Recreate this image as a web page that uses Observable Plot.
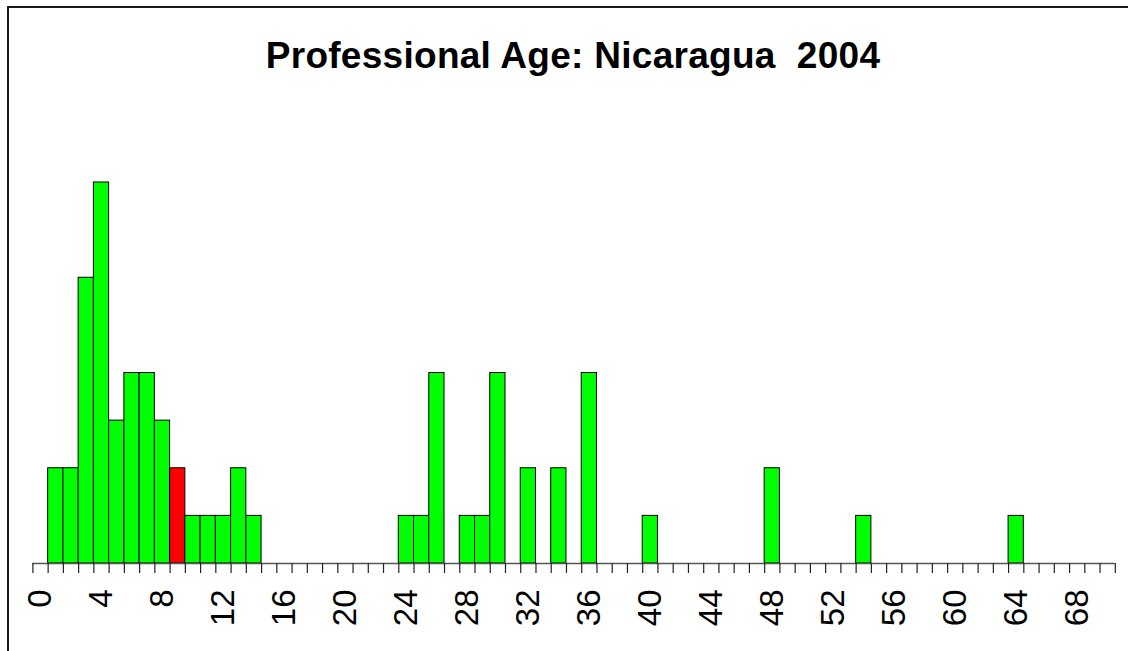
<!DOCTYPE html>
<html>
<head>
<meta charset="utf-8">
<script src="https://cdn.jsdelivr.net/npm/d3@7"></script>
<script src="https://cdn.jsdelivr.net/npm/@observablehq/plot@0.6"></script>
<style>
  html, body { margin: 0; padding: 0; background: #fff; }
  #wrap { position: relative; width: 1128px; height: 651px; overflow: hidden; background: #fff;
          font-family: "Liberation Sans", Arial, Helvetica, sans-serif; }
  #bTop { position: absolute; left: 7px; top: 6px; width: 1121px; height: 2px; background: #1a1a1a; }
  #bLeft { position: absolute; left: 7px; top: 6px; width: 2px; height: 645px; background: #1a1a1a; }
  #title { position: absolute; left: 573px; top: 37px; margin: 0; font-size: 37px; line-height: 37px;
           font-weight: bold; color: #000; white-space: pre; letter-spacing: 0.28px;
           transform: translateX(-50%); }
  #chart { position: absolute; left: 0; top: 100px; }
</style>
</head>
<body>
<div id="wrap">
  <div id="bTop"></div>
  <div id="bLeft"></div>
  <div id="title">Professional Age: Nicaragua  2004</div>
  <div id="chart"></div>
</div>
<script>
// Data
const ages   = [1, 2, 3, 4, 5, 6, 7, 8, 9, 10, 11, 12, 13, 14, 24, 25, 26, 28, 29, 30, 32, 34, 36, 40, 48, 54, 64];
const counts = [2, 2, 6, 8, 3, 4, 4, 3, 2, 1, 1, 1, 2, 1, 1, 1, 4, 1, 1, 4, 2, 2, 4, 1, 2, 1, 1];
const highlightAge = 9;
const tickLabels = [0, 4, 8, 12, 16, 20, 24, 28, 32, 36, 40, 44, 48, 52, 56, 60, 64, 68];
const tickEdges = d3.range(-0.5, 71, 1);

const data = ages.map((a, i) => ({age: a, count: counts[i]}));

const chart = Plot.plot({
  width: 1128,
  height: 551,
  marginLeft: 32.4,
  marginRight: 13.2,
  marginTop: 82,
  marginBottom: 88,
  x: {domain: [-0.5, 70.5]},
  y: {domain: [0, 8], axis: null},
  style: {fontFamily: '"Liberation Sans", Arial, Helvetica, sans-serif', background: "transparent", overflow: "visible"},
  marks: [
    Plot.rectY(data, {
      x1: d => d.age - 0.5,
      x2: d => d.age + 0.5,
      y1: 0,
      y2: d => d.count,
      fill: d => d.age === highlightAge ? "#ff0000" : "#00ff00",
      stroke: "#000",
      strokeWidth: 1
    }),
    Plot.ruleY([0], {stroke: "#555", strokeWidth: 1.5}),
    Plot.axisX({ticks: tickEdges, tickSize: 10, tickFormat: () => "", stroke: "#222", strokeWidth: 1.2}),
    Plot.text(tickLabels, {
      x: d => d,
      frameAnchor: "bottom",
      text: d => String(d),
      rotate: -90,
      textAnchor: "end",
      lineAnchor: "middle",
      dy: 26,
      fontSize: 33,
      fill: "#000"
    })
  ]
});
document.getElementById("chart").appendChild(chart);
</script>
</body>
</html>
